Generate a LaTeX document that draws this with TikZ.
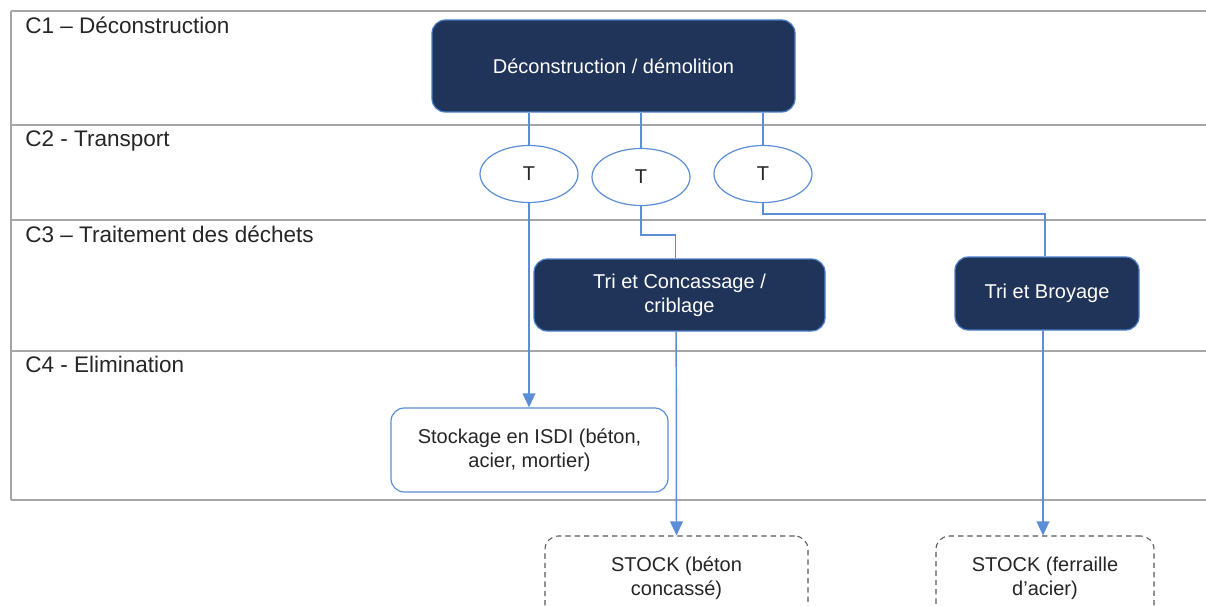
\documentclass[tikz,border=0pt]{standalone}
\usepackage{fontspec}
\setmainfont{Liberation Sans}
\usetikzlibrary{arrows.meta,shapes.geometric}
\definecolor{navy}{HTML}{203359}
\definecolor{navyedge}{HTML}{4A7FC8}
\definecolor{conn}{HTML}{5B8ED6}
\definecolor{grid}{HTML}{A6A6A6}
\definecolor{txt}{HTML}{262626}
\definecolor{dashc}{HTML}{595959}
\tikzset{
  lane/.style={draw=grid, line width=1.7pt},
  lanelabel/.style={anchor=north west, inner sep=0pt, text=txt, font=\fontsize{16.9}{19}\selectfont},
  darkbox/.style={draw=navyedge, line width=0.9pt, fill=navy, rounded corners=10pt, text=white, align=center, font=\fontsize{15}{18}\selectfont, inner sep=0pt},
  whitebox/.style={draw=conn, line width=0.9pt, fill=white, rounded corners=10pt, text=txt, align=center, font=\fontsize{15}{18}\selectfont, inner sep=0pt},
  stockbox/.style={draw=dashc, line width=0.8pt, dash pattern=on 4pt off 3pt, rounded corners=10pt, text=txt, align=center, font=\fontsize{15}{18}\selectfont, inner sep=0pt},
  tnode/.style={draw=conn, line width=0.9pt, fill=white, ellipse, minimum width=73.5pt, minimum height=42.75pt, inner sep=0pt, text=txt, font=\fontsize{15}{18}\selectfont},
  conn/.style={draw=conn, line width=1.1pt},
  arr/.style={conn, -{Triangle[width=9.5pt,length=10.5pt]}}
}
\begin{document}
\begin{tikzpicture}[x=0.75pt,y=-0.75pt]
\useasboundingbox (0,0) rectangle (1206,606);
\clip (0,0) rectangle (1206,606);
\fill[white] (0,0) rectangle (1206,606);
% lanes
\draw[lane] (11,11) -- (11,500);
\foreach \yy in {11,125,220,351,500} { \draw[lane] (11,\yy) -- (1206,\yy); }
\node[lanelabel] (l1) at (25,17) {C1 – Déconstruction};
\node[lanelabel] (l2) at (25,131) {C2 - Transport};
\node[lanelabel] (l3) at (25,226) {C3 – Traitement des déchets};
\node[lanelabel] (l4) at (25,356) {C4 - Elimination};
% boxes
\node[darkbox, minimum width=272.25pt, minimum height=69pt] (main) at (613.5,66) {Déconstruction / démolition};
\node[tnode] (t1) at (529,174) {\raisebox{-2pt}{T}};
\node[tnode] (t2) at (641,177) {\raisebox{-2pt}{T}};
\node[tnode] (t3) at (763,174) {\raisebox{-2pt}{T}};
\node[darkbox, minimum width=218.25pt, minimum height=54pt] (tc) at (679.5,295) {Tri et Concassage /\\criblage};
\node[darkbox, minimum width=138pt, minimum height=54.75pt] (tb) at (1047,293.5) {Tri et Broyage};
\node[whitebox, minimum width=207.75pt, minimum height=63pt] (isdi) at (529.5,450) {Stockage en ISDI (béton,\\acier, mortier)};
\node[stockbox, minimum width=197.25pt, minimum height=63pt] (s1) at (676.5,578) {STOCK (béton\\concassé)};
\node[stockbox, minimum width=163.5pt, minimum height=63pt] (s2) at (1045,578) {STOCK (ferraille\\d’acier)};
% connectors
\draw[conn] (t1.north |- main.south) -- (t1.north);
\draw[conn] (t2.north |- main.south) -- (t2.north);
\draw[conn] (t3.north |- main.south) -- (t3.north);
\draw[arr] (t1.south) -- (isdi.north -| t1.south);
\draw[conn] (t2.south) -- ++(0,29) -| ([xshift=-3pt]tc.north);
\draw[conn] (t3.south) -- ++(0,11) -| ([xshift=-1.5pt]tb.north);
\draw[arr] ([xshift=-2.5pt]tc.south) -- (s1.north);
\draw[arr] ([xshift=-3pt]tb.south) -- ([xshift=-1.5pt]s2.north);
\end{tikzpicture}
\end{document}
